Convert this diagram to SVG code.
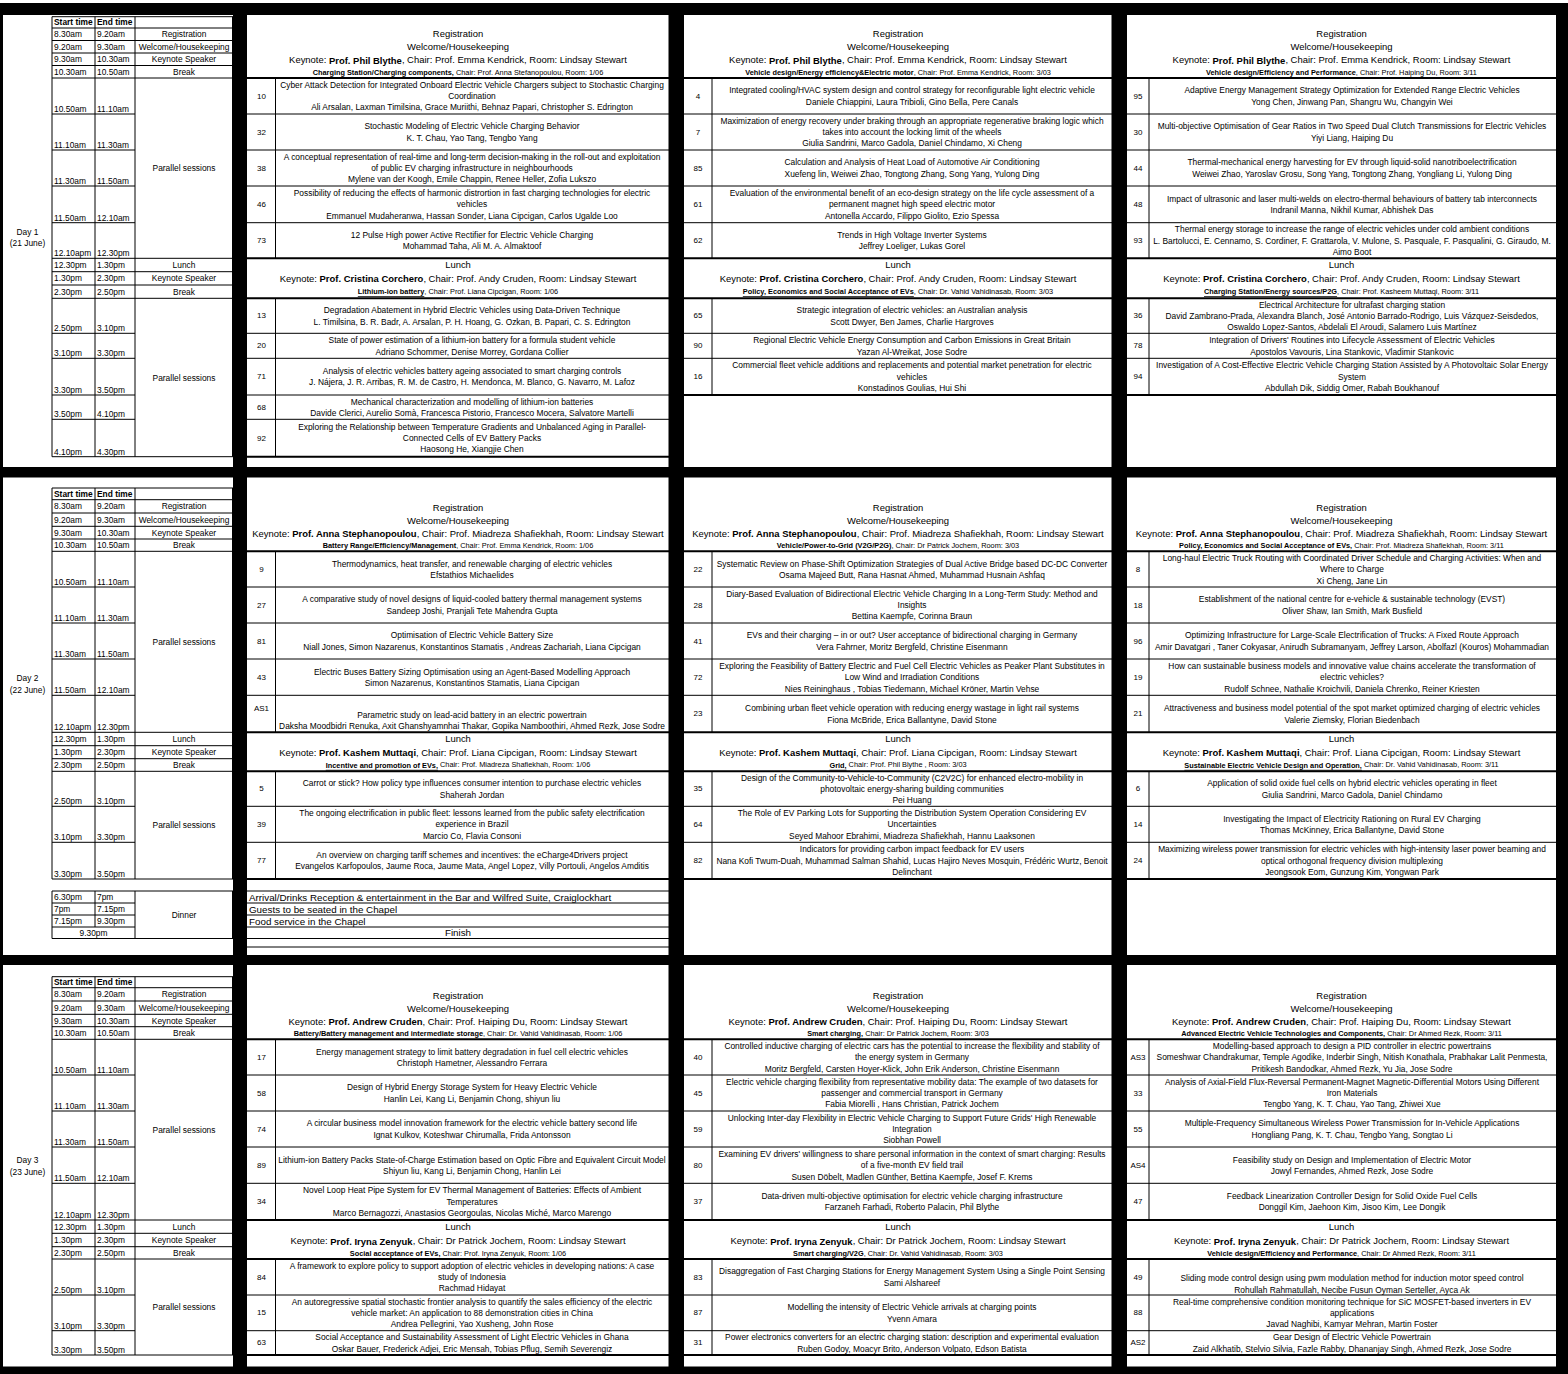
<svg xmlns="http://www.w3.org/2000/svg" width="1568" height="1374" viewBox="0 0 1568 1374">
<style>
text{font-family:"Liberation Sans",Arial,sans-serif;fill:#000;dominant-baseline:central}
.t{font-size:8.4px}
.tc{font-size:8.4px;text-anchor:middle}
.tb{font-size:8.4px;font-weight:bold}
.hd{font-size:9.45px;text-anchor:middle}
.ch{font-size:7.35px;text-anchor:middle}
.p{font-size:8.4px;text-anchor:middle}
.n{font-size:8px;text-anchor:middle}
.ev{font-size:9.8px}
.evc{font-size:9.8px;text-anchor:middle}
.b{font-weight:bold}
.u{font-weight:bold;text-decoration:underline}
.g{stroke:#000;stroke-width:1;fill:none}
.k{stroke:#000;stroke-width:2;fill:none}
</style>
<rect x="0" y="0" width="1568" height="1374" fill="#fff"/>
<rect x="0" y="3" width="1568" height="1371" fill="#000"/>
<g id="panels" fill="#fff">
<rect x="3" y="15" width="230" height="452"/>
<rect x="247" y="15" width="421.5" height="452"/>
<rect x="684" y="15" width="427.5" height="452"/>
<rect x="1127" y="15" width="429" height="452"/>
<rect x="3" y="477.5" width="230" height="477.5"/>
<rect x="247" y="477.5" width="421.5" height="477.5"/>
<rect x="684" y="477.5" width="427.5" height="477.5"/>
<rect x="1127" y="477.5" width="429" height="477.5"/>
<rect x="3" y="965" width="230" height="401.5"/>
<rect x="247" y="965" width="421.5" height="401.5"/>
<rect x="684" y="965" width="427.5" height="401.5"/>
<rect x="1127" y="965" width="429" height="401.5"/>
</g>

<g id="grid">
<path class="g" d="M52 16.7H233M52 28H233M52 40.5H233M52 53H233M52 65.5H233M52 78H233M52 114H135M52 150H135M52 186H135M52 222.7H135M52 258.3H233M52 271.7H233M52 285H233M52 298.3H233M52 333.3H135M52 358.3H135M52 395H135M52 419.3H135M52 456.7H233M52 16.7V456.7M95 16.7V456.7M135 16.7V456.7M232.5 16.7V456.7"/>
<path class="g" d="M52 488H233M52 499.7H233M52 513H233M52 526.3H233M52 539H233M52 551.3H233M52 587H135M52 623H135M52 659H135M52 695.3H135M52 732.3H233M52 745.7H233M52 758.7H233M52 771.3H233M52 806.3H135M52 842.3H135M52 879H233M52 488V879M95 488V879M135 488V879M232.5 488V879"/>
<path class="g" d="M52 891H233M52 903H135M52 915H135M52 927H135M52 938.5H233M52 891V938.5M95 891V927M135 891V938.5M232.5 891V938.5"/>
<path class="g" d="M52 976.7H233M52 987.7H233M52 1001H233M52 1014.3H233M52 1026.7H233M52 1039.3H233M52 1075H135M52 1111H135M52 1147H135M52 1183.3H135M52 1220H233M52 1233.3H233M52 1246.7H233M52 1259H233M52 1295H135M52 1330.7H135M52 1355H233M52 976.7V1355M95 976.7V1355M135 976.7V1355M232.5 976.7V1355"/>

<path class="k" d="M247 78H669M247 258.3H669M247 298.3H669M247 456.7H669M684 78H1112M684 258.3H1112M684 298.3H1112M684 395H1112M1127 78H1556M1127 258.3H1556M1127 298.3H1556M1127 395H1556"/>
<path class="g" d="M247 114H669M247 150H669M247 186H669M247 222.7H669M247 333.3H669M247 358.3H669M247 395H669M247 419.3H669M275.5 78V258.3M275.5 298.3V456.7M684 114H1112M684 150H1112M684 186H1112M684 222.7H1112M684 333.3H1112M684 358.3H1112M712 78V258.3M712 298.3V395M1127 114H1556M1127 150H1556M1127 186H1556M1127 222.7H1556M1127 333.3H1556M1127 358.3H1556M1149 78V258.3M1149 298.3V395"/>

<path class="k" d="M247 551.3H669M247 732.3H669M247 771.3H669M247 879H669M684 551.3H1112M684 732.3H1112M684 771.3H1112M684 879H1112M1127 551.3H1556M1127 732.3H1556M1127 771.3H1556M1127 879H1556"/>
<path class="g" d="M247 587H669M247 623H669M247 659H669M247 695.3H669M247 806.3H669M247 842.3H669M275.5 551.3V732.3M275.5 771.3V879M684 587H1112M684 623H1112M684 659H1112M684 695.3H1112M684 806.3H1112M684 842.3H1112M712 551.3V732.3M712 771.3V879M1127 587H1556M1127 623H1556M1127 659H1556M1127 695.3H1556M1127 806.3H1556M1127 842.3H1556M1149 551.3V732.3M1149 771.3V879M247 891H669M247 903H669M247 915H669M247 927H669M247 938.5H669M247 947H669"/>

<path class="k" d="M247 1039.3H669M247 1220H669M247 1259H669M247 1355H669M684 1039.3H1112M684 1220H1112M684 1259H1112M684 1355H1112M1127 1039.3H1556M1127 1220H1556M1127 1259H1556M1127 1355H1556"/>
<path class="g" d="M247 1075H669M247 1111H669M247 1147H669M247 1183.3H669M247 1295H669M247 1330.7H669M275.5 1039.3V1220M275.5 1259V1355M684 1075H1112M684 1111H1112M684 1147H1112M684 1183.3H1112M684 1295H1112M684 1330.7H1112M712 1039.3V1220M712 1259V1355M1127 1075H1556M1127 1111H1556M1127 1147H1556M1127 1183.3H1556M1127 1295H1556M1127 1330.7H1556M1149 1039.3V1220M1149 1259V1355"/>
</g>

<!-- DAY 1 time panel -->
<g id="d1-time">
<text class="tc" x="27.5" y="231.7">Day 1</text>
<text class="tc" x="27.5" y="243.3">(21 June)</text>
<text class="tb" x="54" y="22.4">Start time</text><text class="tb" x="97" y="22.4">End time</text>
<text class="t" x="54" y="34.3">8.30am</text><text class="t" x="97" y="34.3">9.20am</text><text class="tc" x="184" y="34.3">Registration</text>
<text class="t" x="54" y="46.8">9.20am</text><text class="t" x="97" y="46.8">9.30am</text><text class="tc" x="184" y="46.8">Welcome/Housekeeping</text>
<text class="t" x="54" y="59.3">9.30am</text><text class="t" x="97" y="59.3">10.30am</text><text class="tc" x="184" y="59.3">Keynote Speaker</text>
<text class="t" x="54" y="71.8">10.30am</text><text class="t" x="97" y="71.8">10.50am</text><text class="tc" x="184" y="71.8">Break</text>
<text class="t" x="54" y="109">10.50am</text><text class="t" x="97" y="109">11.10am</text>
<text class="t" x="54" y="145">11.10am</text><text class="t" x="97" y="145">11.30am</text>
<text class="t" x="54" y="181">11.30am</text><text class="t" x="97" y="181">11.50am</text>
<text class="t" x="54" y="217.7">11.50am</text><text class="t" x="97" y="217.7">12.10am</text>
<text class="t" x="54" y="253.3">12.10apm</text><text class="t" x="97" y="253.3">12.30pm</text>
<text class="tc" x="184" y="168.2">Parallel sessions</text>
<text class="t" x="54" y="265">12.30pm</text><text class="t" x="97" y="265">1.30pm</text><text class="tc" x="184" y="265">Lunch</text>
<text class="t" x="54" y="278.3">1.30pm</text><text class="t" x="97" y="278.3">2.30pm</text><text class="tc" x="184" y="278.3">Keynote Speaker</text>
<text class="t" x="54" y="291.7">2.30pm</text><text class="t" x="97" y="291.7">2.50pm</text><text class="tc" x="184" y="291.7">Break</text>
<text class="t" x="54" y="328.3">2.50pm</text><text class="t" x="97" y="328.3">3.10pm</text>
<text class="t" x="54" y="353.3">3.10pm</text><text class="t" x="97" y="353.3">3.30pm</text>
<text class="t" x="54" y="390">3.30pm</text><text class="t" x="97" y="390">3.50pm</text>
<text class="t" x="54" y="414.3">3.50pm</text><text class="t" x="97" y="414.3">4.10pm</text>
<text class="t" x="54" y="451.7">4.10pm</text><text class="t" x="97" y="451.7">4.30pm</text>
<text class="tc" x="184" y="377.5">Parallel sessions</text>
</g>

<!-- DAY 1 col 1 -->
<g id="d1c1-head">
<text class="hd" x="458" y="33.7">Registration</text>
<text class="hd" x="458" y="46.5">Welcome/Housekeeping</text>
<text class="hd" x="458" y="59.5">Keynote: <tspan class="b">Prof. Phil Blythe</tspan>, Chair: Prof. Emma Kendrick, Room: Lindsay Stewart</text>
<text class="ch" x="458" y="72"><tspan class="b">Charging Station/Charging components,</tspan> Chair: Prof. Anna Stefanopoulou, Room: 1/06</text>
</g>
<g id="d1c1-10"><text class="n" x="261.5" y="96">10</text>
<text class="p" x="472" y="84.7">Cyber Attack Detection for Integrated Onboard Electric Vehicle Chargers subject to Stochastic Charging</text>
<text class="p" x="472" y="96">Coordination</text>
<text class="p" x="472" y="107.3">Ali Arsalan, Laxman Timilsina,  Grace Muriithi, Behnaz Papari, Christopher S. Edrington</text></g>
<g id="d1c1-32"><text class="n" x="261.5" y="132">32</text>
<text class="p" x="472" y="126.3">Stochastic Modeling of Electric Vehicle Charging Behavior</text>
<text class="p" x="472" y="137.7">K. T. Chau, Yao Tang, Tengbo Yang</text></g>
<g id="d1c1-38"><text class="n" x="261.5" y="168">38</text>
<text class="p" x="472" y="156.7">A conceptual representation of real-time and long-term decision-making in the roll-out and exploitation</text>
<text class="p" x="472" y="168">of public EV charging infrastructure in neighbourhoods</text>
<text class="p" x="472" y="179.3">Mylene van der Koogh, Emile Chappin, Renee Heller, Zofia Lukszo</text></g>
<g id="d1c1-46"><text class="n" x="261.5" y="204.4">46</text>
<text class="p" x="472" y="193.1">Possibility of reducing the effects of harmonic distrortion in fast charging technologies for electric</text>
<text class="p" x="472" y="204.4">vehicles</text>
<text class="p" x="472" y="215.7">Emmanuel Mudaheranwa, Hassan Sonder, Liana Cipcigan, Carlos Ugalde Loo</text></g>
<g id="d1c1-73"><text class="n" x="261.5" y="240.5">73</text>
<text class="p" x="472" y="234.8">12 Pulse High power Active Rectifier for Electric Vehicle Charging</text>
<text class="p" x="472" y="246.2">Mohammad Taha, Ali M. A. Almaktoof</text></g>
<g id="d1c1-lunch">
<text class="hd" x="458" y="264.8">Lunch</text>
<text class="hd" x="458" y="278">Keynote: <tspan class="b">Prof. Cristina Corchero</tspan>, Chair: Prof. Andy Cruden, Room: Lindsay Stewart</text>
<text class="ch" x="458" y="291"><tspan class="u">Lithium-ion battery</tspan>, Chair: Prof. Liana Cipcigan, Room: 1/06</text>
</g>
<g id="d1c1-13"><text class="n" x="261.5" y="315.8">13</text>
<text class="p" x="472" y="310.2">Degradation Abatement in Hybrid Electric Vehicles using Data-Driven Technique</text>
<text class="p" x="472" y="321.5">L. Timilsina, B. R. Badr, A. Arsalan, P. H. Hoang, G. Ozkan, B. Papari, C. S. Edrington</text></g>
<g id="d1c1-20"><text class="n" x="261.5" y="345.8">20</text>
<text class="p" x="472" y="340.2">State of power estimation of a lithium-ion battery for a formula student vehicle</text>
<text class="p" x="472" y="351.5">Adriano Schommer, Denise Morrey, Gordana Collier</text></g>
<g id="d1c1-71"><text class="n" x="261.5" y="376.7">71</text>
<text class="p" x="472" y="371">Analysis of electric vehicles battery ageing associated to smart charging controls</text>
<text class="p" x="472" y="382.3">J. Nájera, J. R. Arribas, R. M. de Castro, H. Mendonca, M. Blanco, G. Navarro, M. Lafoz</text></g>
<g id="d1c1-68"><text class="n" x="261.5" y="407.2">68</text>
<text class="p" x="472" y="401.5">Mechanical characterization and modelling of lithium-ion batteries</text>
<text class="p" x="472" y="412.8">Davide Clerici, Aurelio Somà, Francesca Pistorio, Francesco Mocera, Salvatore Martelli</text></g>
<g id="d1c1-92"><text class="n" x="261.5" y="438">92</text>
<text class="p" x="472" y="426.7">Exploring the Relationship between Temperature Gradients and Unbalanced Aging in Parallel-</text>
<text class="p" x="472" y="438">Connected Cells of EV Battery Packs</text>
<text class="p" x="472" y="449.3">Haosong He, Xiangjie Chen</text></g>

<!-- DAY 1 col 2 -->
<g id="d1c2-head">
<text class="hd" x="898" y="33.7">Registration</text>
<text class="hd" x="898" y="46.5">Welcome/Housekeeping</text>
<text class="hd" x="898" y="59.5">Keynote: <tspan class="b">Prof. Phil Blythe</tspan>, Chair: Prof. Emma Kendrick, Room: Lindsay Stewart</text>
<text class="ch" x="898" y="72"><tspan class="b">Vehicle design/Energy efficiency&amp;Electric motor</tspan>, Chair: Prof. Emma Kendrick, Room: 3/03</text>
</g>
<g id="d1c2-4"><text class="n" x="698" y="96">4</text>
<text class="p" x="912" y="90.3">Integrated cooling/HVAC system design and control strategy for reconfigurable light electric vehicle</text>
<text class="p" x="912" y="101.7">Daniele Chiappini, Laura Tribioli, Gino Bella, Pere Canals</text></g>
<g id="d1c2-7"><text class="n" x="698" y="132">7</text>
<text class="p" x="912" y="120.7">Maximization of energy recovery under braking through an appropriate regenerative braking logic which</text>
<text class="p" x="912" y="132">takes into account the locking limit of the wheels</text>
<text class="p" x="912" y="143.3">Giulia Sandrini, Marco Gadola, Daniel Chindamo, Xi Cheng</text></g>
<g id="d1c2-85"><text class="n" x="698" y="168">85</text>
<text class="p" x="912" y="162.3">Calculation and Analysis of Heat Load of Automotive Air Conditioning</text>
<text class="p" x="912" y="173.7">Xuefeng lin, Weiwei Zhao, Tongtong Zhang, Song Yang, Yulong Ding</text></g>
<g id="d1c2-61"><text class="n" x="698" y="204.4">61</text>
<text class="p" x="912" y="193.1">Evaluation of the environmental benefit of an eco-design strategy on the life cycle assessment of a</text>
<text class="p" x="912" y="204.4">permanent magnet high speed electric motor</text>
<text class="p" x="912" y="215.7">Antonella Accardo, Filippo Giolito, Ezio Spessa</text></g>
<g id="d1c2-62"><text class="n" x="698" y="240.5">62</text>
<text class="p" x="912" y="234.8">Trends in High Voltage Inverter Systems</text>
<text class="p" x="912" y="246.2">Jeffrey Loeliger, Lukas Gorel</text></g>
<g id="d1c2-lunch">
<text class="hd" x="898" y="264.8">Lunch</text>
<text class="hd" x="898" y="278">Keynote: <tspan class="b">Prof. Cristina Corchero</tspan>, Chair: Prof. Andy Cruden, Room: Lindsay Stewart</text>
<text class="ch" x="898" y="291"><tspan class="u">Policy, Economics and Social Acceptance of EVs</tspan>, Chair: Dr. Vahid Vahidinasab, Room: 3/03</text>
</g>
<g id="d1c2-65"><text class="n" x="698" y="315.8">65</text>
<text class="p" x="912" y="310.2">Strategic integration of electric vehicles: an Australian analysis</text>
<text class="p" x="912" y="321.5">Scott Dwyer, Ben James, Charlie Hargroves</text></g>
<g id="d1c2-90"><text class="n" x="698" y="345.8">90</text>
<text class="p" x="912" y="340.2">Regional Electric Vehicle Energy Consumption and Carbon Emissions in Great Britain</text>
<text class="p" x="912" y="351.5">Yazan Al-Wreikat, Jose Sodre</text></g>
<g id="d1c2-16"><text class="n" x="698" y="376.7">16</text>
<text class="p" x="912" y="365.4">Commercial fleet vehicle additions and replacements and potential market penetration for electric</text>
<text class="p" x="912" y="376.7">vehicles</text>
<text class="p" x="912" y="388">Konstadinos Goulias, Hui Shi</text></g>

<!-- DAY 1 col 3 -->
<g id="d1c3-head">
<text class="hd" x="1341.5" y="33.7">Registration</text>
<text class="hd" x="1341.5" y="46.5">Welcome/Housekeeping</text>
<text class="hd" x="1341.5" y="59.5">Keynote: <tspan class="b">Prof. Phil Blythe</tspan>, Chair: Prof. Emma Kendrick, Room: Lindsay Stewart</text>
<text class="ch" x="1341.5" y="72"><tspan class="b">Vehicle design/Efficiency and Performance</tspan>, Chair: Prof. Haiping Du, Room: 3/11</text>
</g>
<g id="d1c3-95"><text class="n" x="1138" y="96">95</text>
<text class="p" x="1352" y="90.3">Adaptive Energy Management Strategy Optimization for Extended Range Electric Vehicles</text>
<text class="p" x="1352" y="101.7">Yong Chen, Jinwang Pan, Shangru Wu, Changyin Wei</text></g>
<g id="d1c3-30"><text class="n" x="1138" y="132">30</text>
<text class="p" x="1352" y="126.3">Multi-objective Optimisation of Gear Ratios in Two Speed Dual Clutch Transmissions for Electric Vehicles</text>
<text class="p" x="1352" y="137.7">Yiyi Liang, Haiping Du</text></g>
<g id="d1c3-44"><text class="n" x="1138" y="168">44</text>
<text class="p" x="1352" y="162.3">Thermal-mechanical energy harvesting for EV through liquid-solid nanotriboelectrification</text>
<text class="p" x="1352" y="173.7">Weiwei Zhao, Yaroslav Grosu, Song Yang, Tongtong Zhang, Yongliang Li, Yulong Ding</text></g>
<g id="d1c3-48"><text class="n" x="1138" y="204.4">48</text>
<text class="p" x="1352" y="198.7">Impact of ultrasonic and laser multi-welds on electro-thermal behaviours of battery tab interconnects</text>
<text class="p" x="1352" y="210">Indranil Manna, Nikhil Kumar, Abhishek Das</text></g>
<g id="d1c3-93"><text class="n" x="1138" y="240.5">93</text>
<text class="p" x="1352" y="229.2">Thermal energy storage to increase the range of electric vehicles under cold ambient conditions</text>
<text class="p" x="1352" y="240.5">L. Bartolucci, E. Cennamo, S. Cordiner, F. Grattarola, V. Mulone, S. Pasquale, F. Pasqualini, G. Giraudo, M.</text>
<text class="p" x="1352" y="251.8">Aimo Boot</text></g>
<g id="d1c3-lunch">
<text class="hd" x="1341.5" y="264.8">Lunch</text>
<text class="hd" x="1341.5" y="278">Keynote: <tspan class="b">Prof. Cristina Corchero</tspan>, Chair: Prof. Andy Cruden, Room: Lindsay Stewart</text>
<text class="ch" x="1341.5" y="291"><tspan class="u">Charging Station/Energy sources/P2G</tspan>, Chair: Prof. Kasheem Muttaqi, Room: 3/11</text>
</g>
<g id="d1c3-36"><text class="n" x="1138" y="315.8">36</text>
<text class="p" x="1352" y="304.5">Electrical Architecture for ultrafast charging station</text>
<text class="p" x="1352" y="315.8">David Zambrano-Prada, Alexandra Blanch, José Antonio Barrado-Rodrigo, Luis Vázquez-Seisdedos,</text>
<text class="p" x="1352" y="327.1">Oswaldo Lopez-Santos, Abdelali El Aroudi, Salamero Luis Martínez</text></g>
<g id="d1c3-78"><text class="n" x="1138" y="345.8">78</text>
<text class="p" x="1352" y="340.2">Integration of Drivers' Routines into Lifecycle Assessment of Electric Vehicles</text>
<text class="p" x="1352" y="351.5">Apostolos Vavouris, Lina Stankovic, Vladimir Stankovic</text></g>
<g id="d1c3-94"><text class="n" x="1138" y="376.7">94</text>
<text class="p" x="1352" y="365.4">Investigation of A Cost-Effective Electric Vehicle Charging Station Assisted by A Photovoltaic Solar Energy</text>
<text class="p" x="1352" y="376.7">System</text>
<text class="p" x="1352" y="388">Abdullah Dik, Siddig Omer, Rabah Boukhanouf</text></g>

<!-- DAY 2 time panel -->
<g id="d2-time">
<text class="tc" x="27.5" y="678">Day 2</text>
<text class="tc" x="27.5" y="689.7">(22 June)</text>
<text class="tb" x="54" y="493.9">Start time</text><text class="tb" x="97" y="493.9">End time</text>
<text class="t" x="54" y="506.4">8.30am</text><text class="t" x="97" y="506.4">9.20am</text><text class="tc" x="184" y="506.4">Registration</text>
<text class="t" x="54" y="519.7">9.20am</text><text class="t" x="97" y="519.7">9.30am</text><text class="tc" x="184" y="519.7">Welcome/Housekeeping</text>
<text class="t" x="54" y="532.7">9.30am</text><text class="t" x="97" y="532.7">10.30am</text><text class="tc" x="184" y="532.7">Keynote Speaker</text>
<text class="t" x="54" y="545.2">10.30am</text><text class="t" x="97" y="545.2">10.50am</text><text class="tc" x="184" y="545.2">Break</text>
<text class="t" x="54" y="582">10.50am</text><text class="t" x="97" y="582">11.10am</text>
<text class="t" x="54" y="618">11.10am</text><text class="t" x="97" y="618">11.30am</text>
<text class="t" x="54" y="654">11.30am</text><text class="t" x="97" y="654">11.50am</text>
<text class="t" x="54" y="690.3">11.50am</text><text class="t" x="97" y="690.3">12.10am</text>
<text class="t" x="54" y="727.3">12.10apm</text><text class="t" x="97" y="727.3">12.30pm</text>
<text class="tc" x="184" y="641.8">Parallel sessions</text>
<text class="t" x="54" y="739">12.30pm</text><text class="t" x="97" y="739">1.30pm</text><text class="tc" x="184" y="739">Lunch</text>
<text class="t" x="54" y="752.2">1.30pm</text><text class="t" x="97" y="752.2">2.30pm</text><text class="tc" x="184" y="752.2">Keynote Speaker</text>
<text class="t" x="54" y="765">2.30pm</text><text class="t" x="97" y="765">2.50pm</text><text class="tc" x="184" y="765">Break</text>
<text class="t" x="54" y="801.3">2.50pm</text><text class="t" x="97" y="801.3">3.10pm</text>
<text class="t" x="54" y="837.3">3.10pm</text><text class="t" x="97" y="837.3">3.30pm</text>
<text class="t" x="54" y="874">3.30pm</text><text class="t" x="97" y="874">3.50pm</text>
<text class="tc" x="184" y="825.2">Parallel sessions</text>
<text class="t" x="54" y="897">6.30pm</text><text class="t" x="97" y="897">7pm</text>
<text class="t" x="54" y="909">7pm</text><text class="t" x="97" y="909">7.15pm</text>
<text class="t" x="54" y="921">7.15pm</text><text class="t" x="97" y="921">9.30pm</text>
<text class="tc" x="93.5" y="932.7">9.30pm</text>
<text class="tc" x="184" y="915">Dinner</text>
</g>

<!-- DAY 2 col 1 -->
<g id="d2c1-head">
<text class="hd" x="458" y="507">Registration</text>
<text class="hd" x="458" y="520">Welcome/Housekeeping</text>
<text class="hd" x="458" y="533">Keynote: <tspan class="b">Prof. Anna Stephanopoulou</tspan>, Chair: Prof. Miadreza Shafiekhah, Room: Lindsay Stewart</text>
<text class="ch" x="458" y="545"><tspan class="b">Battery Range/Efficiency/Management</tspan>,  Chair: Prof. Emma Kendrick, Room: 1/06</text>
</g>
<g id="d2c1-9"><text class="n" x="261.5" y="569.2">9</text>
<text class="p" x="472" y="563.5">Thermodynamics, heat transfer, and renewable charging of electric vehicles</text>
<text class="p" x="472" y="574.8">Efstathios Michaelides</text></g>
<g id="d2c1-27"><text class="n" x="261.5" y="605">27</text>
<text class="p" x="472" y="599.4">A comparative study of novel designs of liquid-cooled battery thermal management systems</text>
<text class="p" x="472" y="610.7">Sandeep Joshi, Pranjali Tete Mahendra Gupta</text></g>
<g id="d2c1-81"><text class="n" x="261.5" y="641">81</text>
<text class="p" x="472" y="635.4">Optimisation of Electric Vehicle Battery Size</text>
<text class="p" x="472" y="646.7">Niall Jones, Simon Nazarenus, Konstantinos Stamatis , Andreas Zachariah, Liana Cipcigan</text></g>
<g id="d2c1-43"><text class="n" x="261.5" y="677.2">43</text>
<text class="p" x="472" y="671.5">Electric Buses Battery Sizing Optimisation using an Agent-Based Modelling Approach</text>
<text class="p" x="472" y="682.8">Simon Nazarenus, Konstantinos Stamatis, Liana Cipcigan</text></g>
<g id="d2c1-AS1"><text class="n" x="261.5" y="708">AS1</text>
<text class="p" x="472" y="714.7">Parametric study on lead-acid battery in an electric powertrain</text>
<text class="p" x="472" y="725.8">Daksha Moodbidri Renuka, Axit Ghanshyamnhai Thakar, Gopika Namboothiri, Ahmed Rezk, Jose Sodre</text></g>
<g id="d2c1-lunch">
<text class="hd" x="458" y="738.8">Lunch</text>
<text class="hd" x="458" y="752">Keynote: <tspan class="b">Prof. Kashem Muttaqi</tspan>, Chair: Prof. Liana Cipcigan, Room: Lindsay Stewart</text>
<text class="ch" x="458" y="764.8"><tspan class="u">Incentive and promotion of EVs,</tspan> Chair: Prof. Miadreza Shafiekhah, Room: 1/06</text>
</g>
<g id="d2c1-5"><text class="n" x="261.5" y="788.8">5</text>
<text class="p" x="472" y="783.2">Carrot or stick? How policy type influences consumer intention to purchase electric vehicles</text>
<text class="p" x="472" y="794.5">Shaherah Jordan</text></g>
<g id="d2c1-39"><text class="n" x="261.5" y="824.3">39</text>
<text class="p" x="472" y="813">The ongoing electrification in public fleet: lessons learned from the public safety electrification</text>
<text class="p" x="472" y="824.3">experience in Brazil</text>
<text class="p" x="472" y="835.6">Marcio Co, Flavia Consoni</text></g>
<g id="d2c1-77"><text class="n" x="261.5" y="860.7">77</text>
<text class="p" x="472" y="855">An overview on charging tariff schemes and incentives: the eCharge4Drivers project</text>
<text class="p" x="472" y="866.3">Evangelos Karfopoulos, Jaume Roca, Jaume Mata, Angel Lopez, Villy Portouli, Angelos Amditis</text></g>
<g id="d2c1-evening">
<text class="ev" x="249" y="897">Arrival/Drinks Reception &amp; entertainment in the Bar and Wilfred Suite, Craiglockhart</text>
<text class="ev" x="249" y="909">Guests to be seated in the Chapel</text>
<text class="ev" x="249" y="921">Food service in the Chapel</text>
<text class="evc" x="458" y="932.7">Finish</text>
</g>

<!-- DAY 2 col 2 -->
<g id="d2c2-head">
<text class="hd" x="898" y="507">Registration</text>
<text class="hd" x="898" y="520">Welcome/Housekeeping</text>
<text class="hd" x="898" y="533">Keynote: <tspan class="b">Prof. Anna Stephanopoulou</tspan>, Chair: Prof. Miadreza Shafiekhah, Room: Lindsay Stewart</text>
<text class="ch" x="898" y="545"><tspan class="b">Vehicle/Power-to-Grid (V2G/P2G)</tspan>, Chair: Dr Patrick Jochem, Room: 3/03</text>
</g>
<g id="d2c2-22"><text class="n" x="698" y="569.2">22</text>
<text class="p" x="912" y="563.5">Systematic Review on Phase-Shift Optimization Strategies of Dual Active Bridge based DC-DC Converter</text>
<text class="p" x="912" y="574.8">Osama Majeed Butt, Rana Hasnat Ahmed, Muhammad Husnain Ashfaq</text></g>
<g id="d2c2-28"><text class="n" x="698" y="605">28</text>
<text class="p" x="912" y="593.7">Diary-Based Evaluation of Bidirectional Electric Vehicle Charging In a Long-Term Study: Method and</text>
<text class="p" x="912" y="605">Insights</text>
<text class="p" x="912" y="616.3">Bettina Kaempfe, Corinna Braun</text></g>
<g id="d2c2-41"><text class="n" x="698" y="641">41</text>
<text class="p" x="912" y="635.4">EVs and their charging – in or out? User acceptance of bidirectional charging in Germany</text>
<text class="p" x="912" y="646.7">Vera Fahrner, Moritz Bergfeld, Christine Eisenmann</text></g>
<g id="d2c2-72"><text class="n" x="698" y="677.2">72</text>
<text class="p" x="912" y="665.9">Exploring the Feasibility of Battery Electric and Fuel Cell Electric Vehicles as Peaker Plant Substitutes in</text>
<text class="p" x="912" y="677.2">Low Wind and Irradiation Conditions</text>
<text class="p" x="912" y="688.5">Nies Reininghaus , Tobias Tiedemann, Michael Kröner, Martin Vehse</text></g>
<g id="d2c2-23"><text class="n" x="698" y="713.8">23</text>
<text class="p" x="912" y="708.2">Combining urban fleet vehicle operation with reducing energy wastage in light rail systems</text>
<text class="p" x="912" y="719.5">Fiona McBride, Erica Ballantyne, David Stone</text></g>
<g id="d2c2-lunch">
<text class="hd" x="898" y="738.8">Lunch</text>
<text class="hd" x="898" y="752">Keynote: <tspan class="b">Prof. Kashem Muttaqi</tspan>, Chair: Prof. Liana Cipcigan, Room: Lindsay Stewart</text>
<text class="ch" x="898" y="764.8"><tspan class="u">Grid,</tspan> Chair: Prof. Phil Blythe , Room: 3/03</text>
</g>
<g id="d2c2-35"><text class="n" x="698" y="788.8">35</text>
<text class="p" x="912" y="777.5">Design of the Community-to-Vehicle-to-Community (C2V2C) for enhanced electro-mobility in</text>
<text class="p" x="912" y="788.8">photovoltaic energy-sharing building communities</text>
<text class="p" x="912" y="800.1">Pei Huang</text></g>
<g id="d2c2-64"><text class="n" x="698" y="824.3">64</text>
<text class="p" x="912" y="813">The Role of EV Parking Lots for Supporting the Distribution System Operation Considering EV</text>
<text class="p" x="912" y="824.3">Uncertainties</text>
<text class="p" x="912" y="835.6">Seyed Mahoor Ebrahimi, Miadreza Shafiekhah, Hannu Laaksonen</text></g>
<g id="d2c2-82"><text class="n" x="698" y="860.7">82</text>
<text class="p" x="912" y="849.4">Indicators for providing carbon impact feedback for EV users</text>
<text class="p" x="912" y="860.7">Nana Kofi Twum-Duah, Muhammad Salman Shahid, Lucas Hajiro Neves Mosquin, Frédéric Wurtz, Benoit</text>
<text class="p" x="912" y="872">Delinchant</text></g>

<!-- DAY 2 col 3 -->
<g id="d2c3-head">
<text class="hd" x="1341.5" y="507">Registration</text>
<text class="hd" x="1341.5" y="520">Welcome/Housekeeping</text>
<text class="hd" x="1341.5" y="533">Keynote: <tspan class="b">Prof. Anna Stephanopoulou</tspan>, Chair: Prof. Miadreza Shafiekhah, Room: Lindsay Stewart</text>
<text class="ch" x="1341.5" y="545"><tspan class="b">Policy, Economics and Social Acceptance of EVs,</tspan> Chair: Prof. Miadreza Shafiekhah, Room: 3/11</text>
</g>
<g id="d2c3-8"><text class="n" x="1138" y="569.2">8</text>
<text class="p" x="1352" y="557.9">Long-haul Electric Truck Routing with Coordinated Driver Schedule and Charging Activities: When and</text>
<text class="p" x="1352" y="569.2">Where to Charge</text>
<text class="p" x="1352" y="580.5">Xi Cheng, Jane Lin</text></g>
<g id="d2c3-18"><text class="n" x="1138" y="605">18</text>
<text class="p" x="1352" y="599.4">Establishment of the national centre for e-vehicle &amp; sustainable technology (EVST)</text>
<text class="p" x="1352" y="610.7">Oliver Shaw, Ian Smith, Mark Busfield</text></g>
<g id="d2c3-96"><text class="n" x="1138" y="641">96</text>
<text class="p" x="1352" y="635.4">Optimizing Infrastructure for Large-Scale Electrification of Trucks: A Fixed Route Approach</text>
<text class="p" x="1352" y="646.7">Amir Davatgari , Taner Cokyasar, Anirudh Subramanyam, Jeffrey Larson, Abolfazl (Kouros) Mohammadian</text></g>
<g id="d2c3-19"><text class="n" x="1138" y="677.2">19</text>
<text class="p" x="1352" y="665.9">How can sustainable business models and innovative value chains accelerate the transformation of</text>
<text class="p" x="1352" y="677.2">electric vehicles?</text>
<text class="p" x="1352" y="688.5">Rudolf Schnee, Nathalie Kroichvili, Daniela Chrenko, Reiner Kriesten</text></g>
<g id="d2c3-21"><text class="n" x="1138" y="713.8">21</text>
<text class="p" x="1352" y="708.2">Attractiveness and business model potential of the spot market optimized charging of electric vehicles</text>
<text class="p" x="1352" y="719.5">Valerie Ziemsky, Florian Biedenbach</text></g>
<g id="d2c3-lunch">
<text class="hd" x="1341.5" y="738.8">Lunch</text>
<text class="hd" x="1341.5" y="752">Keynote: <tspan class="b">Prof. Kashem Muttaqi</tspan>, Chair: Prof. Liana Cipcigan, Room: Lindsay Stewart</text>
<text class="ch" x="1341.5" y="764.8"><tspan class="u">Sustainable Electric Vehicle Design and Operation,</tspan> Chair: Dr. Vahid Vahidinasab, Room: 3/11</text>
</g>
<g id="d2c3-6"><text class="n" x="1138" y="788.8">6</text>
<text class="p" x="1352" y="783.2">Application of solid oxide fuel cells on hybrid electric vehicles operating in fleet</text>
<text class="p" x="1352" y="794.5">Giulia Sandrini, Marco Gadola, Daniel Chindamo</text></g>
<g id="d2c3-14"><text class="n" x="1138" y="824.3">14</text>
<text class="p" x="1352" y="818.7">Investigating the Impact of Electricity Rationing on Rural EV Charging</text>
<text class="p" x="1352" y="830">Thomas McKinney, Erica Ballantyne, David Stone</text></g>
<g id="d2c3-24"><text class="n" x="1138" y="860.7">24</text>
<text class="p" x="1352" y="849.4">Maximizing wireless power transmission for electric vehicles with high-intensity laser power beaming and</text>
<text class="p" x="1352" y="860.7">optical orthogonal frequency division multiplexing</text>
<text class="p" x="1352" y="872">Jeongsook Eom, Gunzung Kim, Yongwan Park</text></g>

<!-- DAY 3 time panel -->
<g id="d3-time">
<text class="tc" x="27.5" y="1160">Day 3</text>
<text class="tc" x="27.5" y="1171.5">(23 June)</text>
<text class="tb" x="54" y="982.2">Start time</text><text class="tb" x="97" y="982.2">End time</text>
<text class="t" x="54" y="994.4">8.30am</text><text class="t" x="97" y="994.4">9.20am</text><text class="tc" x="184" y="994.4">Registration</text>
<text class="t" x="54" y="1007.7">9.20am</text><text class="t" x="97" y="1007.7">9.30am</text><text class="tc" x="184" y="1007.7">Welcome/Housekeeping</text>
<text class="t" x="54" y="1020.5">9.30am</text><text class="t" x="97" y="1020.5">10.30am</text><text class="tc" x="184" y="1020.5">Keynote Speaker</text>
<text class="t" x="54" y="1033">10.30am</text><text class="t" x="97" y="1033">10.50am</text><text class="tc" x="184" y="1033">Break</text>
<text class="t" x="54" y="1070">10.50am</text><text class="t" x="97" y="1070">11.10am</text>
<text class="t" x="54" y="1106">11.10am</text><text class="t" x="97" y="1106">11.30am</text>
<text class="t" x="54" y="1142">11.30am</text><text class="t" x="97" y="1142">11.50am</text>
<text class="t" x="54" y="1178.3">11.50am</text><text class="t" x="97" y="1178.3">12.10am</text>
<text class="t" x="54" y="1215">12.10apm</text><text class="t" x="97" y="1215">12.30pm</text>
<text class="tc" x="184" y="1129.7">Parallel sessions</text>
<text class="t" x="54" y="1226.7">12.30pm</text><text class="t" x="97" y="1226.7">1.30pm</text><text class="tc" x="184" y="1226.7">Lunch</text>
<text class="t" x="54" y="1240">1.30pm</text><text class="t" x="97" y="1240">2.30pm</text><text class="tc" x="184" y="1240">Keynote Speaker</text>
<text class="t" x="54" y="1252.9">2.30pm</text><text class="t" x="97" y="1252.9">2.50pm</text><text class="tc" x="184" y="1252.9">Break</text>
<text class="t" x="54" y="1290">2.50pm</text><text class="t" x="97" y="1290">3.10pm</text>
<text class="t" x="54" y="1325.7">3.10pm</text><text class="t" x="97" y="1325.7">3.30pm</text>
<text class="t" x="54" y="1350">3.30pm</text><text class="t" x="97" y="1350">3.50pm</text>
<text class="tc" x="184" y="1307">Parallel sessions</text>
</g>

<!-- DAY 3 col 1 -->
<g id="d3c1-head">
<text class="hd" x="458" y="995">Registration</text>
<text class="hd" x="458" y="1008">Welcome/Housekeeping</text>
<text class="hd" x="458" y="1021">Keynote: <tspan class="b">Prof. Andrew Cruden</tspan>, Chair: Prof. Haiping Du, Room: Lindsay Stewart</text>
<text class="ch" x="458" y="1033.3"><tspan class="b">Battery/Battery management and intermediate storage</tspan>, Chair: Dr. Vahid Vahidinasab, Room: 1/06</text>
</g>
<g id="d3c1-17"><text class="n" x="261.5" y="1057.2">17</text>
<text class="p" x="472" y="1051.5">Energy management strategy to limit battery degradation in fuel cell electric vehicles</text>
<text class="p" x="472" y="1062.8">Christoph Hametner, Alessandro Ferrara</text></g>
<g id="d3c1-58"><text class="n" x="261.5" y="1093">58</text>
<text class="p" x="472" y="1087.4">Design of Hybrid Energy Storage System for Heavy Electric Vehicle</text>
<text class="p" x="472" y="1098.7">Hanlin Lei, Kang Li, Benjamin Chong, shiyun liu</text></g>
<g id="d3c1-74"><text class="n" x="261.5" y="1129">74</text>
<text class="p" x="472" y="1123.4">A circular business model innovation framework for the electric vehicle battery second life</text>
<text class="p" x="472" y="1134.7">Ignat Kulkov, Koteshwar Chirumalla, Frida Antonsson</text></g>
<g id="d3c1-89"><text class="n" x="261.5" y="1165.2">89</text>
<text class="p" x="472" y="1159.5">Lithium-ion Battery Packs State-of-Charge Estimation based on Optic Fibre and Equivalent Circuit Model</text>
<text class="p" x="472" y="1170.8">Shiyun liu, Kang Li, Benjamin Chong, Hanlin Lei</text></g>
<g id="d3c1-34"><text class="n" x="261.5" y="1201.7">34</text>
<text class="p" x="472" y="1190.4">Novel Loop Heat Pipe System for EV Thermal Management of Batteries: Effects of Ambient</text>
<text class="p" x="472" y="1201.7">Temperatures</text>
<text class="p" x="472" y="1213">Marco Bernagozzi, Anastasios Georgoulas, Nicolas Miché, Marco Marengo</text></g>
<g id="d3c1-lunch">
<text class="hd" x="458" y="1226.7">Lunch</text>
<text class="hd" x="458" y="1240.5">Keynote: <tspan class="b">Prof. Iryna Zenyuk</tspan>, Chair: Dr Patrick Jochem, Room: Lindsay Stewart</text>
<text class="ch" x="458" y="1253"><tspan class="u">Social acceptance of EVs,</tspan> Chair: Prof. Iryna Zenyuk, Room: 1/06</text>
</g>
<g id="d3c1-84"><text class="n" x="261.5" y="1277">84</text>
<text class="p" x="472" y="1265.7">A framework to explore policy to support adoption of electric vehicles in developing nations: A case</text>
<text class="p" x="472" y="1277">study of Indonesia</text>
<text class="p" x="472" y="1288.3">Rachmad Hidayat</text></g>
<g id="d3c1-15"><text class="n" x="261.5" y="1312.9">15</text>
<text class="p" x="472" y="1301.6">An autoregressive spatial stochastic frontier analysis to quantify the sales efficiency of the electric</text>
<text class="p" x="472" y="1312.9">vehicle market: An application to 88 demonstration cities in China</text>
<text class="p" x="472" y="1324.2">Andrea Pellegrini, Yao Xusheng, John Rose</text></g>
<g id="d3c1-63"><text class="n" x="261.5" y="1342.9">63</text>
<text class="p" x="472" y="1337.2">Social Acceptance and Sustainability Assessment of Light Electric Vehicles in Ghana</text>
<text class="p" x="472" y="1348.5">Oskar Bauer, Frederick Adjei, Eric Mensah, Tobias Pflug, Semih Severengiz</text></g>

<!-- DAY 3 col 2 -->
<g id="d3c2-head">
<text class="hd" x="898" y="995">Registration</text>
<text class="hd" x="898" y="1008">Welcome/Housekeeping</text>
<text class="hd" x="898" y="1021">Keynote: <tspan class="b">Prof. Andrew Cruden</tspan>, Chair: Prof. Haiping Du, Room: Lindsay Stewart</text>
<text class="ch" x="898" y="1033.3"><tspan class="b">Smart charging,</tspan> Chair: Dr Patrick Jochem, Room: 3/03</text>
</g>
<g id="d3c2-40"><text class="n" x="698" y="1057.2">40</text>
<text class="p" x="912" y="1045.9">Controlled inductive charging of electric cars has the potential to increase the flexibility and stability of</text>
<text class="p" x="912" y="1057.2">the energy system in Germany</text>
<text class="p" x="912" y="1068.5">Moritz Bergfeld, Carsten Hoyer-Klick, John Erik Anderson, Christine Eisenmann</text></g>
<g id="d3c2-45"><text class="n" x="698" y="1093">45</text>
<text class="p" x="912" y="1081.7">Electric vehicle charging flexibility from representative mobility data: The example of two datasets for</text>
<text class="p" x="912" y="1093">passenger and commercial transport in Germany</text>
<text class="p" x="912" y="1104.3">Fabia Miorelli , Hans Christian, Patrick Jochem</text></g>
<g id="d3c2-59"><text class="n" x="698" y="1129">59</text>
<text class="p" x="912" y="1117.7">Unlocking Inter-day Flexibility in Electric Vehicle Charging to Support Future Grids' High Renewable</text>
<text class="p" x="912" y="1129">Integration</text>
<text class="p" x="912" y="1140.3">Siobhan Powell</text></g>
<g id="d3c2-80"><text class="n" x="698" y="1165.2">80</text>
<text class="p" x="912" y="1153.9">Examining EV drivers' willingness to share personal information in the context of smart charging: Results</text>
<text class="p" x="912" y="1165.2">of a five-month EV field trail</text>
<text class="p" x="912" y="1176.5">Susen Döbelt, Madlen Günther, Bettina Kaempfe, Josef F. Krems</text></g>
<g id="d3c2-37"><text class="n" x="698" y="1201.7">37</text>
<text class="p" x="912" y="1196">Data-driven multi-objective optimisation for electric vehicle charging infrastructure</text>
<text class="p" x="912" y="1207.3">Farzaneh Farhadi, Roberto Palacin, Phil Blythe</text></g>
<g id="d3c2-lunch">
<text class="hd" x="898" y="1226.7">Lunch</text>
<text class="hd" x="898" y="1240.5">Keynote: <tspan class="b">Prof. Iryna Zenyuk</tspan>, Chair: Dr Patrick Jochem, Room: Lindsay Stewart</text>
<text class="ch" x="898" y="1253"><tspan class="u">Smart charging/V2G</tspan>, Chair: Dr. Vahid Vahidinasab, Room: 3/03</text>
</g>
<g id="d3c2-83"><text class="n" x="698" y="1277">83</text>
<text class="p" x="912" y="1271.4">Disaggregation of Fast Charging Stations for Energy Management System Using a Single Point Sensing</text>
<text class="p" x="912" y="1282.7">Sami Alshareef</text></g>
<g id="d3c2-87"><text class="n" x="698" y="1312.9">87</text>
<text class="p" x="912" y="1307.2">Modelling the intensity of Electric Vehicle arrivals at charging points</text>
<text class="p" x="912" y="1318.5">Yvenn Amara</text></g>
<g id="d3c2-31"><text class="n" x="698" y="1342.9">31</text>
<text class="p" x="912" y="1337.2">Power electronics converters for an electric charging station: description and experimental evaluation</text>
<text class="p" x="912" y="1348.5">Ruben Godoy, Moacyr Brito, Anderson Volpato, Edson Batista</text></g>

<!-- DAY 3 col 3 -->
<g id="d3c3-head">
<text class="hd" x="1341.5" y="995">Registration</text>
<text class="hd" x="1341.5" y="1008">Welcome/Housekeeping</text>
<text class="hd" x="1341.5" y="1021">Keynote: <tspan class="b">Prof. Andrew Cruden</tspan>, Chair: Prof. Haiping Du, Room: Lindsay Stewart</text>
<text class="ch" x="1341.5" y="1033.3"><tspan class="b">Advanced Electric Vehicle Technologies and Components,</tspan> Chair: Dr Ahmed Rezk, Room: 3/11</text>
</g>
<g id="d3c3-AS3"><text class="n" x="1138" y="1057.2">AS3</text>
<text class="p" x="1352" y="1045.9">Modelling-based approach to design a PID controller in electric powertrains</text>
<text class="p" x="1352" y="1057.2">Someshwar Chandrakumar, Temple Agodike, Inderbir Singh, Nitish Konathala, Prabhakar Lalit Penmesta,</text>
<text class="p" x="1352" y="1068.5">Pritikesh Bandodkar, Ahmed Rezk, Yu Jia, Jose Sodre</text></g>
<g id="d3c3-33"><text class="n" x="1138" y="1093">33</text>
<text class="p" x="1352" y="1081.7">Analysis of Axial-Field Flux-Reversal Permanent-Magnet Magnetic-Differential Motors Using Different</text>
<text class="p" x="1352" y="1093">Iron Materials</text>
<text class="p" x="1352" y="1104.3">Tengbo Yang, K. T. Chau, Yao Tang, Zhiwei Xue</text></g>
<g id="d3c3-55"><text class="n" x="1138" y="1129">55</text>
<text class="p" x="1352" y="1123.4">Multiple-Frequency Simultaneous Wireless Power Transmission for In-Vehicle Applications</text>
<text class="p" x="1352" y="1134.7">Hongliang Pang, K. T. Chau, Tengbo Yang, Songtao Li</text></g>
<g id="d3c3-AS4"><text class="n" x="1138" y="1165.2">AS4</text>
<text class="p" x="1352" y="1159.5">Feasibility study on Design and Implementation of Electric Motor</text>
<text class="p" x="1352" y="1170.8">Jowyl Fernandes, Ahmed Rezk, Jose Sodre</text></g>
<g id="d3c3-47"><text class="n" x="1138" y="1201.7">47</text>
<text class="p" x="1352" y="1196">Feedback Linearization Controller Design for Solid Oxide Fuel Cells</text>
<text class="p" x="1352" y="1207.3">Donggil Kim, Jaehoon Kim, Jisoo Kim, Lee Dongik</text></g>
<g id="d3c3-lunch">
<text class="hd" x="1341.5" y="1226.7">Lunch</text>
<text class="hd" x="1341.5" y="1240.5">Keynote: <tspan class="b">Prof. Iryna Zenyuk</tspan>, Chair: Dr Patrick Jochem, Room: Lindsay Stewart</text>
<text class="ch" x="1341.5" y="1253"><tspan class="u">Vehicle design/Efficiency and Performance</tspan>, Chair: Dr Ahmed Rezk, Room: 3/11</text>
</g>
<g id="d3c3-49"><text class="n" x="1138" y="1277">49</text>
<text class="p" x="1352" y="1278.3">Sliding mode control design using pwm modulation method for induction motor speed control</text>
<text class="p" x="1352" y="1289.6">Rohullah Rahmatullah, Necibe Fusun Oyman Serteller, Ayca Ak</text></g>
<g id="d3c3-88"><text class="n" x="1138" y="1312.9">88</text>
<text class="p" x="1352" y="1301.6">Real-time comprehensive condition monitoring technique for SiC MOSFET-based inverters in EV</text>
<text class="p" x="1352" y="1312.9">applications</text>
<text class="p" x="1352" y="1324.2">Javad Naghibi, Kamyar Mehran, Martin Foster</text></g>
<g id="d3c3-AS2"><text class="n" x="1138" y="1342.9">AS2</text>
<text class="p" x="1352" y="1337.2">Gear Design of Electric Vehicle Powertrain</text>
<text class="p" x="1352" y="1348.5">Zaid Alkhatib, Stelvio Silvia, Fazle Rabby, Dhananjay Singh, Ahmed Rezk, Jose Sodre</text></g>
</svg>
